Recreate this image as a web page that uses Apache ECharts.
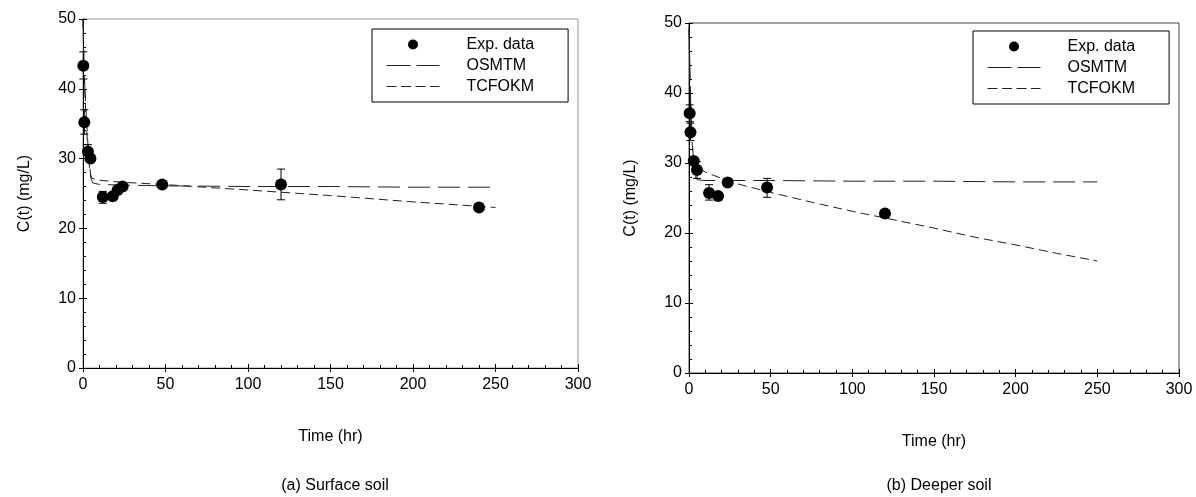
<!DOCTYPE html>
<html>
<head>
<meta charset="utf-8">
<script src="https://cdn.jsdelivr.net/npm/echarts@6/dist/echarts.min.js"></script>
<style>
  html, body { margin: 0; padding: 0; background: #fff; }
  #chart { width: 1196px; height: 497px; }
</style>
</head>
<body>
<div id="chart"></div>
<script>
// (a) Surface soil — experimental points
const expT_a = [0.2, 0.8, 3, 4.5, 12, 18, 21, 24, 48, 120, 240];
const expC_a = [43.3, 35.2, 31.0, 30.0, 24.5, 24.6, 25.5, 26.0, 26.3, 26.3, 23.0];
// error bars: [t, low, high]
const err_a = [[0.2, 41.4, 45.3], [0.8, 33.5, 37.0], [3, 30.0, 32.0], [12, 23.6, 25.3], [120, 24.1, 28.5]];
// model curves
const osmT_a = [0, 0.5, 1, 2, 3, 4, 5, 6, 10, 24, 48, 100, 150, 200, 250];
const osmC_a = [50, 45, 41, 36, 32, 29, 27, 26.5, 26.3, 26.2, 26.1, 26.0, 26.0, 25.9, 25.9];
const tcfT_a = [0, 0.5, 1, 2, 3, 4, 5, 10, 24, 48, 100, 150, 200, 250];
const tcfC_a = [50, 44, 40, 35, 31, 28.5, 27.2, 26.9, 26.6, 26.3, 25.5, 24.7, 23.8, 23.0];

// (b) Deeper soil
const expT_b = [0.4, 0.9, 2.9, 4.9, 12.3, 17.8, 23.7, 47.8, 120];
const expC_b = [37.1, 34.4, 30.3, 29.0, 25.7, 25.3, 27.2, 26.5, 22.8];
const err_b = [[0.4, 35.9, 38.3], [0.9, 33.2, 35.7], [4.9, 27.8, 30.2], [12.3, 24.7, 26.9], [47.8, 25.1, 27.8]];
const osmT_b = [0, 0.5, 1, 2, 3, 4, 5, 10, 50, 100, 150, 200, 250];
const osmC_b = [49.5, 44, 39, 33, 29.5, 28, 27.6, 27.5, 27.5, 27.4, 27.4, 27.3, 27.3];
const tcfT_b = [0, 0.5, 1, 2, 3, 5, 10, 20, 30, 50, 75, 100, 125, 150, 175, 200, 225, 250];
const tcfC_b = [49, 42, 37, 32.5, 30.5, 29.5, 28.7, 27.8, 27.0, 25.8, 24.4, 23.1, 21.9, 20.7, 19.4, 18.3, 17.1, 16.0];

const panelTitles = ['(a) Surface soil', '(b) Deeper soil'];
const FONT = '"Liberation Sans", Arial, sans-serif';
const FS = 16;
const OSM_DASH = [22, 8];
const TCF_DASH = [9, 5];

const zip = (xs, ys) => xs.map((x, i) => [x, ys[i]]);

const grids = [
  { left: 83, top: 19, width: 495, height: 349, show: true, borderColor: '#999', borderWidth: 1 },
  { left: 689, top: 23, width: 490, height: 350, show: true, borderColor: '#444', borderWidth: 1 },
];

// outer=true gives a label-less twin axis that only draws the outward half of the major ticks
function xAxisFor(gi, outer) {
  return {
    gridIndex: gi, type: 'value', min: 0, max: 300, interval: 50, position: 'bottom',
    name: outer ? '' : 'Time (hr)', nameLocation: 'middle', nameGap: 61,
    nameTextStyle: { color: '#000', fontSize: FS, fontFamily: FONT },
    axisLine: { show: !outer, onZero: false, lineStyle: { color: '#000', width: 1 } },
    axisTick: { show: true, inside: !outer, length: 4, lineStyle: { color: '#000' } },
    minorTick: { show: !outer, splitNumber: 5, length: 3, lineStyle: { color: '#000' } },
    axisLabel: { show: !outer, color: '#000', fontSize: FS, fontFamily: FONT, margin: 9 },
    splitLine: { show: false },
  };
}
function yAxisFor(gi, outer) {
  return {
    gridIndex: gi, type: 'value', min: 0, max: 50, interval: 10, position: 'left',
    name: outer ? '' : 'C(t) (mg/L)', nameLocation: 'middle', nameGap: 50,
    nameTextStyle: { color: '#000', fontSize: FS, fontFamily: FONT },
    axisLine: { show: !outer, onZero: false, lineStyle: { color: '#000', width: 1 } },
    axisTick: { show: true, inside: !outer, length: 4, lineStyle: { color: '#000' } },
    minorTick: { show: !outer, splitNumber: 5, length: 3, lineStyle: { color: '#000' } },
    axisLabel: { show: !outer, color: '#000', fontSize: FS, fontFamily: FONT, margin: 7 },
    splitLine: { show: false },
  };
}

function errorBar(params, api) {
  const x = api.value(0);
  const lo = api.coord([x, api.value(1)]);
  const hi = api.coord([x, api.value(2)]);
  const w = 4;
  const st = { stroke: '#000', lineWidth: 1 };
  return {
    type: 'group',
    children: [
      { type: 'line', shape: { x1: hi[0], y1: hi[1], x2: lo[0], y2: lo[1] }, style: st },
      { type: 'line', shape: { x1: hi[0] - w, y1: hi[1], x2: hi[0] + w, y2: hi[1] }, style: st },
      { type: 'line', shape: { x1: lo[0] - w, y1: lo[1], x2: lo[0] + w, y2: lo[1] }, style: st },
    ],
  };
}

function panelSeries(gi, expT, expC, err, oT, oC, tT, tC) {
  const ax = { xAxisIndex: gi, yAxisIndex: gi };
  return [
    { ...ax, name: 'OSMTM', type: 'line', data: zip(oT, oC), symbol: 'none',
      itemStyle: { color: '#222' },
      lineStyle: { color: '#222', width: 1, type: OSM_DASH }, z: 2 },
    { ...ax, name: 'TCFOKM', type: 'line', data: zip(tT, tC), symbol: 'none',
      itemStyle: { color: '#222' },
      lineStyle: { color: '#222', width: 1, type: TCF_DASH }, z: 2 },
    { ...ax, name: 'errbar' + gi, type: 'custom', renderItem: errorBar,
      encode: { x: 0, y: [1, 2] }, data: err, z: 3, silent: true },
    { ...ax, name: 'Exp. data', type: 'scatter', data: zip(expT, expC), symbol: 'circle',
      symbolSize: 12, itemStyle: { color: '#000', opacity: 1 }, z: 4 },
  ];
}

function legendFor(left, top) {
  return {
    orient: 'vertical', left, top,
    data: [
      { name: 'Exp. data', icon: 'circle', itemStyle: { color: '#000', opacity: 1 } },
      { name: 'OSMTM', itemStyle: { opacity: 0 },
        lineStyle: { color: '#222', width: 1, type: [24, 6] } },
      { name: 'TCFOKM', itemStyle: { opacity: 0 },
        lineStyle: { color: '#222', width: 1, type: [10, 4.5] } },
    ],
    itemWidth: 53, itemHeight: 10, itemGap: 2,
    padding: [6, 34, 6, 14],
    borderColor: '#000', borderWidth: 1,
    textStyle: { color: '#000', fontSize: FS, fontFamily: FONT, lineHeight: 19, padding: [0, 0, 0, 22] },
    selectedMode: false,
  };
}

const chart = echarts.init(document.getElementById('chart'));
chart.setOption({
  animation: false,
  backgroundColor: '#fff',
  title: panelTitles.map((t, i) => ({
    text: t, left: i === 0 ? 330 : 934, top: 473, textAlign: 'center',
    textStyle: { color: '#000', fontSize: FS, fontWeight: 'normal', fontFamily: FONT },
  })),
  legend: [legendFor(372, 29), legendFor(973, 31)],
  grid: grids,
  xAxis: [xAxisFor(0, false), xAxisFor(1, false), xAxisFor(0, true), xAxisFor(1, true)],
  yAxis: [yAxisFor(0, false), yAxisFor(1, false), yAxisFor(0, true), yAxisFor(1, true)],
  series: [
    ...panelSeries(0, expT_a, expC_a, err_a, osmT_a, osmC_a, tcfT_a, tcfC_a),
    ...panelSeries(1, expT_b, expC_b, err_b, osmT_b, osmC_b, tcfT_b, tcfC_b),
  ],
});
</script>
</body>
</html>
